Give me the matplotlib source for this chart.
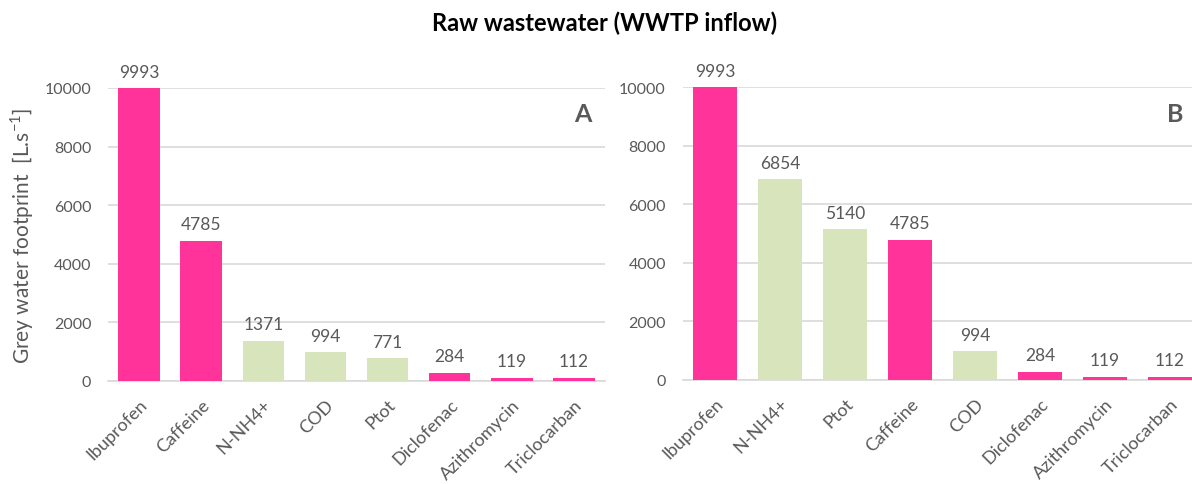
import matplotlib
matplotlib.use("Agg")
import matplotlib.pyplot as plt

plt.rcParams['font.family'] = ['Lato', 'DejaVu Sans']
plt.rcParams['mathtext.fontset'] = 'custom'
plt.rcParams['mathtext.rm'] = 'Lato'

cats_a = ["Ibuprofen", "Caffeine", "N-NH4+", "COD", "Ptot", "Diclofenac", "Azithromycin", "Triclocarban"]
vals_a = [9993, 4785, 1371, 994, 771, 284, 119, 112]
cats_b = ["Ibuprofen", "N-NH4+", "Ptot", "Caffeine", "COD", "Diclofenac", "Azithromycin", "Triclocarban"]
vals_b = [9993, 6854, 5140, 4785, 994, 284, 119, 112]
conventional = {"N-NH4+", "COD", "Ptot"}
yticks = [0, 2000, 4000, 6000, 8000, 10000]

PINK = "#FF3399"
GREEN = "#D8E4BC"
GRID = "#D9D9D9"
TXT = "#595959"

W, H = 1192, 485
fig = plt.figure(figsize=(W / 100, H / 100), dpi=100)

def px_axes(x0, x1, ytop, ybot):
    return fig.add_axes([x0 / W, 1 - ybot / H, (x1 - x0) / W, (ybot - ytop) / H])

def draw(ax, cats, vals):
    colors = [GREEN if c in conventional else PINK for c in cats]
    x = range(len(cats))
    bars = ax.bar(x, vals, width=0.67, color=colors, zorder=3)
    ax.set_xlim(-0.5, len(cats) - 0.5)
    ax.set_ylim(0, 10000)
    ax.set_yticks(yticks)
    ax.set_yticklabels([str(t) for t in yticks], fontsize=11.5, color=TXT)
    ax.set_xticks(list(x))
    ax.set_xticklabels(cats, rotation=45, ha='right', rotation_mode='anchor',
                       fontsize=13, color=TXT)
    ax.tick_params(axis='both', length=0)
    ax.tick_params(axis='y', pad=12)
    ax.tick_params(axis='x', pad=11)
    ax.grid(axis='y', color=GRID, linewidth=1.2, zorder=0)
    for s in ['top', 'right', 'left']:
        ax.spines[s].set_visible(False)
    ax.spines['bottom'].set_color(GRID)
    ax.spines['bottom'].set_linewidth(1.2)
    for b, v in zip(bars, vals):
        ax.annotate(str(v), (b.get_x() + b.get_width() / 2, v), xytext=(0, 6),
                    textcoords='offset points', ha='center', va='bottom',
                    fontsize=12.5, color=TXT, clip_on=False)

ax1 = px_axes(108, 605, 89, 382)
draw(ax1, cats_a, vals_a)
ax1.set_ylabel("Grey water footprint  [L.s$^{\\mathregular{-1}}$]", fontsize=15, color=TXT, labelpad=6)

ax2 = px_axes(682.5, 1202.5, 88, 381)
draw(ax2, cats_b, vals_b)

fig.text(583 / W, 1 - 115 / H, "A", fontsize=18, fontweight='bold', color=TXT, ha='center', va='center')
fig.text(1175 / W, 1 - 115 / H, "B", fontsize=18, fontweight='bold', color=TXT, ha='center', va='center')
fig.text(605 / W, 1 - 23 / H, "Raw wastewater (WWTP inflow)", fontsize=17, fontweight='bold',
         color='black', ha='center', va='center')

fig.savefig("out.png", dpi=100)
